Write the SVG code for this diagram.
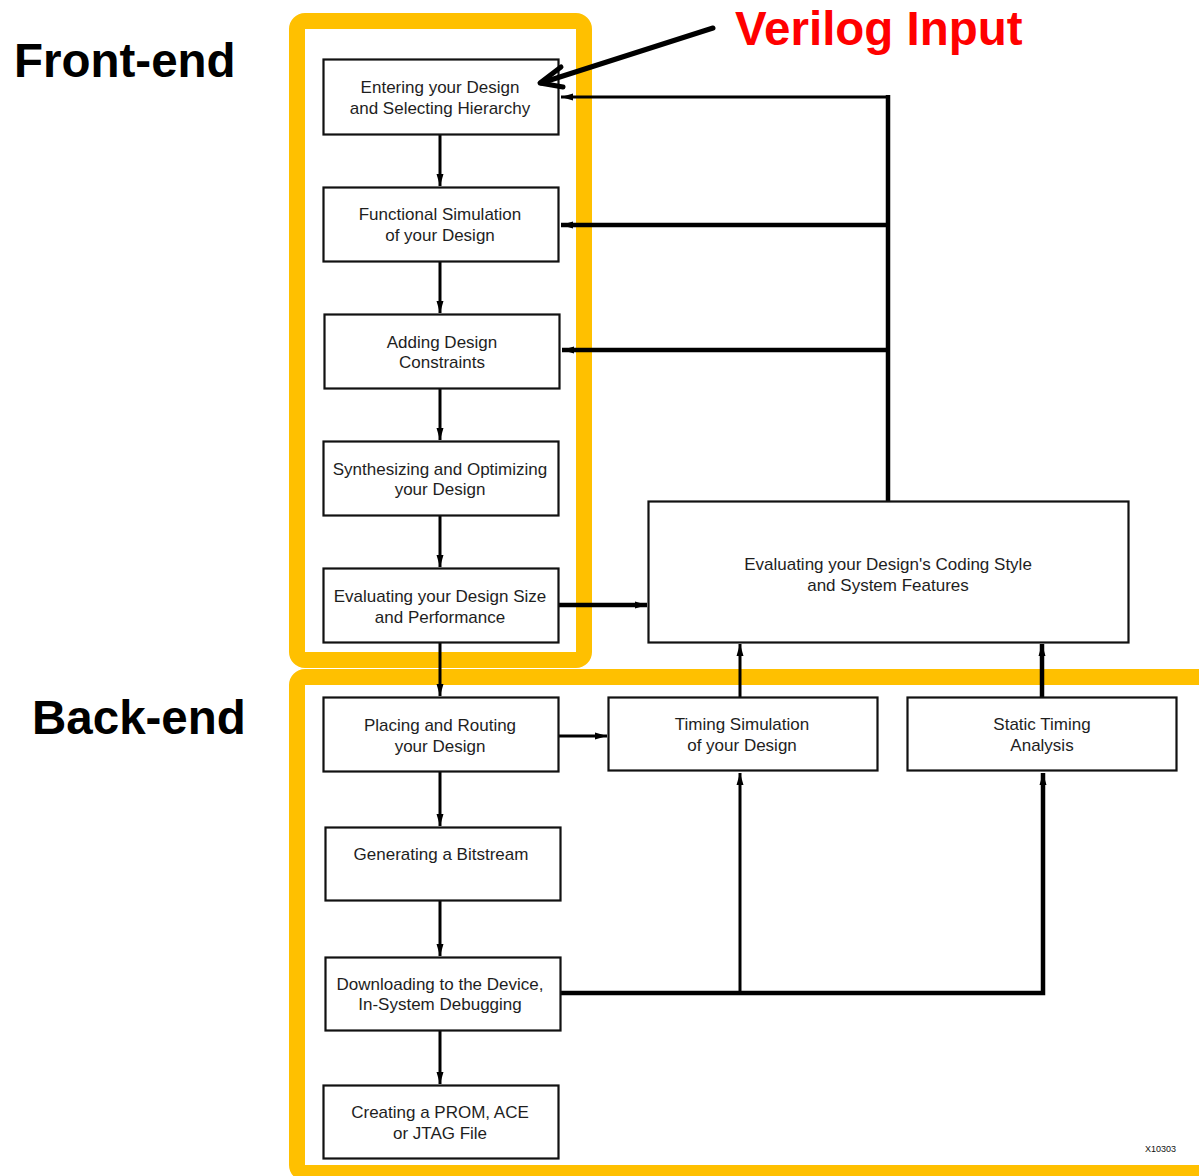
<svg xmlns="http://www.w3.org/2000/svg" width="1199" height="1176" viewBox="0 0 1199 1176">
  <style>
    .box rect { fill: #fff; stroke: #111; stroke-width: 2.2; }
    .box text { font-family: "Liberation Sans", Arial, sans-serif; font-size: 17px; fill: #1e1e1e; text-anchor: middle; }
    .frame { fill: none; stroke: #FFC000; stroke-width: 16; }
    .wire { fill: none; stroke: #000; stroke-width: 3; }
    .wire.thick { stroke-width: 4.5; }
    .heading { font-family: "Liberation Sans", Arial, sans-serif; font-weight: bold; font-size: 47.5px; fill: #000; }
  </style>
  <defs>
    <marker id="ah" markerUnits="userSpaceOnUse" markerWidth="14" markerHeight="10" refX="12" refY="5" orient="auto">
      <path d="M0,1.5 L12,5 L0,8.5 Z" fill="#000"/>
    </marker>
  </defs>

  <rect width="1199" height="1176" fill="#fff"/>

  <!-- Highlight frames -->
  <rect class="frame" x="297" y="21" width="287" height="639" rx="8"/>
  <rect class="frame" x="297" y="677" width="940" height="496" rx="8"/>

  <!-- Headings -->
  <text class="heading" x="14" y="77">Front-end</text>
  <text class="heading" x="32" y="734">Back-end</text>
  <text x="735" y="45" font-family="'Liberation Sans', Arial, sans-serif" font-weight="bold" font-size="47.5" fill="#ff0000">Verilog Input</text>

  <!-- Connectors -->
  <g id="connectors">
    <line class="wire" x1="440" y1="134" x2="440" y2="186" marker-end="url(#ah)"/>
    <line class="wire" x1="440" y1="261" x2="440" y2="313" marker-end="url(#ah)"/>
    <line class="wire" x1="440" y1="389" x2="440" y2="440" marker-end="url(#ah)"/>
    <line class="wire" x1="440" y1="516" x2="440" y2="567" marker-end="url(#ah)"/>
    <line class="wire" x1="440" y1="643" x2="440" y2="696" marker-end="url(#ah)"/>
    <line class="wire" x1="440" y1="772" x2="440" y2="826" marker-end="url(#ah)"/>
    <line class="wire" x1="440" y1="901" x2="440" y2="956" marker-end="url(#ah)"/>
    <line class="wire" x1="440" y1="1031" x2="440" y2="1084" marker-end="url(#ah)"/>

    <!-- feedback from coding-style evaluation -->
    <line class="wire thick" x1="888" y1="501" x2="888" y2="95"/>
    <line class="wire" x1="890" y1="97" x2="561" y2="97" marker-end="url(#ah)"/>
    <line class="wire thick" x1="888" y1="225" x2="561" y2="225" marker-end="url(#ah)"/>
    <line class="wire thick" x1="888" y1="350" x2="562" y2="350" marker-end="url(#ah)"/>

    <line class="wire thick" x1="558" y1="605" x2="647" y2="605" marker-end="url(#ah)"/>
    <line class="wire" x1="558" y1="736" x2="607" y2="736" marker-end="url(#ah)"/>
    <line class="wire" x1="740" y1="697" x2="740" y2="644" marker-end="url(#ah)"/>
    <line class="wire thick" x1="1042" y1="697" x2="1042" y2="644" marker-end="url(#ah)"/>

    <!-- download feedback to timing analysis -->
    <polyline class="wire thick" points="561,993 1043,993 1043,773" marker-end="url(#ah)"/>
    <line class="wire" x1="740" y1="993" x2="740" y2="773" marker-end="url(#ah)"/>
  </g>

  <!-- Flow steps -->
  <g id="n-enter" class="box">
    <rect x="323.5" y="59.5" width="235" height="75"/>
    <text x="440" y="93">Entering your Design</text>
    <text x="440" y="114">and Selecting Hierarchy</text>
  </g>
  <g id="n-funcsim" class="box">
    <rect x="323.5" y="187.5" width="235" height="74"/>
    <text x="440" y="220">Functional Simulation</text>
    <text x="440" y="241">of your Design</text>
  </g>
  <g id="n-constraints" class="box">
    <rect x="324.5" y="314.5" width="235" height="74"/>
    <text x="442" y="348">Adding Design</text>
    <text x="442" y="368">Constraints</text>
  </g>
  <g id="n-synth" class="box">
    <rect x="323.5" y="441.5" width="235" height="74"/>
    <text x="440" y="475">Synthesizing and Optimizing</text>
    <text x="440" y="495">your Design</text>
  </g>
  <g id="n-size" class="box">
    <rect x="323.5" y="568.5" width="235" height="74"/>
    <text x="440" y="602">Evaluating your Design Size</text>
    <text x="440" y="623">and Performance</text>
  </g>
  <g id="n-coding" class="box">
    <rect x="648.5" y="501.5" width="480" height="141"/>
    <text x="888" y="570">Evaluating your Design's Coding Style</text>
    <text x="888" y="591">and System Features</text>
  </g>
  <g id="n-par" class="box">
    <rect x="323.5" y="697.5" width="235" height="74"/>
    <text x="440" y="731">Placing and Routing</text>
    <text x="440" y="752">your Design</text>
  </g>
  <g id="n-timingsim" class="box">
    <rect x="608.5" y="697.5" width="269" height="73"/>
    <text x="742" y="730">Timing Simulation</text>
    <text x="742" y="751">of your Design</text>
  </g>
  <g id="n-sta" class="box">
    <rect x="907.5" y="697.5" width="269" height="73"/>
    <text x="1042" y="730">Static Timing</text>
    <text x="1042" y="751">Analysis</text>
  </g>
  <g id="n-bitstream" class="box">
    <rect x="325.5" y="827.5" width="235" height="73"/>
    <text x="441" y="860">Generating a Bitstream</text>
  </g>
  <g id="n-download" class="box">
    <rect x="325.5" y="957.5" width="235" height="73"/>
    <text x="440" y="990">Downloading to the Device,</text>
    <text x="440" y="1010">In-System Debugging</text>
  </g>
  <g id="n-prom" class="box">
    <rect x="323.5" y="1085.5" width="235" height="73"/>
    <text x="440" y="1118">Creating a PROM, ACE</text>
    <text x="440" y="1139">or JTAG File</text>
  </g>

  <!-- Verilog pointer, drawn over the first step -->
  <g id="verilog-pointer" fill="none" stroke="#000" stroke-width="5" stroke-linecap="round" stroke-linejoin="round">
    <line x1="713" y1="28" x2="541" y2="83"/>
    <polyline points="561,67 540,83 563,87"/>
  </g>

  <text x="1176" y="1152" text-anchor="end" font-family="'Liberation Sans', Arial, sans-serif" font-size="9" fill="#111">X10303</text>
</svg>
